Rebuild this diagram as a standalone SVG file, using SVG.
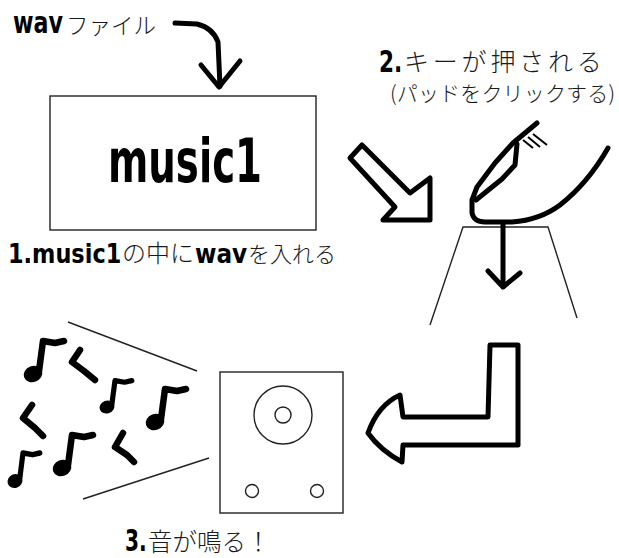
<svg xmlns="http://www.w3.org/2000/svg" width="619" height="558" viewBox="0 0 619 558">
  <style>
    .jp { font-family: "Noto Sans CJK JP", "DejaVu Sans", sans-serif; font-weight: 300; fill: #1a1a1a; }
    .bd { font-family: "DejaVu Sans", "Liberation Sans", sans-serif; font-weight: bold; fill: #000; }
    .thin { fill: none; stroke: #222; stroke-width: 1.4; }
    .thick { fill: none; stroke: #000; stroke-width: 5; stroke-linecap: round; stroke-linejoin: round; }
    .hollow { fill: #fff; stroke: #000; stroke-width: 5; stroke-linejoin: round; }
    .ink { fill: #000; stroke: #000; stroke-width: 2; stroke-linejoin: round; }
    .squig { fill: none; stroke: #000; stroke-width: 6.5; stroke-linecap: round; stroke-linejoin: round; }
  </style>
  <defs>
    <!-- eighth note: head at origin, stem up and flag to the right -->
    <g id="note">
      <ellipse cx="0" cy="0" rx="8.5" ry="7" transform="rotate(-20)" class="ink"/>
      <path d="M6,-3 L10,-33 L22,-31 L31,-33" class="squig"/>
    </g>
  </defs>

  <rect width="619" height="558" fill="#fff"/>

  <!-- source file label -->
  <g id="wav-file">
    <text class="bd" transform="translate(13,33) scale(0.74,1)" font-size="30">wav</text>
    <text class="jp" x="66" y="34" font-size="22.5">ファイル</text>
  </g>

  <!-- pad box -->
  <g id="music1">
    <rect x="50" y="96" width="266" height="134" class="thin"/>
    <text class="bd" transform="translate(108,182) scale(0.645,1)" font-size="60">music1</text>
  </g>

  <g id="step1">
    <text class="bd" transform="translate(8,263) scale(0.83,1)" font-size="27">1.music1</text>
    <text class="jp" x="122" y="262" font-size="24">の中に</text>
    <text class="bd" transform="translate(195,263) scale(0.86,1)" font-size="27">wav</text>
    <text class="jp" x="248" y="262" font-size="22">を入れる</text>
  </g>

  <g id="step2">
    <text class="bd" transform="translate(379,72) scale(0.72,1)" font-size="30">2.</text>
    <text class="jp" x="404" y="71" font-size="25" letter-spacing="3.8">キーが押される</text>
    <text class="jp" x="390" y="101" font-size="21" textLength="225" lengthAdjust="spacing">(パッドをクリックする)</text>
  </g>

  <!-- finger pressing a pad -->
  <g id="finger">
    <path d="M537,123 L513,143 L495,163 L477,187 L472,200 L472,213 Q474,222 485,222 L512,222 Q540,220 560,205 Q588,183 608,148" class="thick" stroke-width="4.5"/>
    <path d="M517,144 L515,165 L502,179 L476,200" class="thick" stroke-width="4"/>
    <path d="M523,140 L533,148 M528,137 L540,147 M533,134 L547,145" fill="none" stroke="#000" stroke-width="2"/>
  </g>

  <g id="pad">
    <path d="M430,325 L463,227 L548,227 L577,318" class="thin"/>
  </g>

  <!-- speaker -->
  <g id="speaker">
    <rect x="220" y="372" width="123" height="141" class="thin"/>
    <circle cx="283" cy="415" r="29" class="thin"/>
    <circle cx="283" cy="415" r="8" class="thin"/>
    <circle cx="252" cy="491" r="6.5" class="thin"/>
    <circle cx="317" cy="491" r="6.5" class="thin"/>
  </g>

  <!-- sound spreading out of the speaker -->
  <g id="sound">
    <path d="M68,322 L197,371 M83,499 L209,458" class="thin"/>
    <use href="#note" transform="translate(33,374)"/>
    <use href="#note" transform="translate(107,407) scale(0.8)"/>
    <use href="#note" transform="translate(155,422)"/>
    <use href="#note" transform="translate(62,468)"/>
    <use href="#note" transform="translate(15,481) scale(0.8,0.85)"/>
    <path d="M80,350 L72,362 L84,371 L95,380" class="squig"/>
    <path d="M32,405 L23,418 L35,428 L43,436" class="squig"/>
    <path d="M123,433 L115,447 L127,455 L134,462" class="squig"/>
  </g>

  <g id="step3">
    <text class="bd" transform="translate(125,551) scale(0.72,1.1)" font-size="28">3.</text>
    <text class="jp" x="148" y="551" font-size="24.5">音が鳴る！</text>
  </g>

  <g id="connectors">
    <!-- file drops into the pad -->
    <path d="M175,23 L197,24 Q213,28 218,42 L220,86" class="thick" stroke-width="5.5"/>
    <path d="M201,65 L219,87 L240,61" class="thick" stroke-width="5.5"/>
    <!-- pad to key press -->
    <path d="M350,158 L362,145 L410,193 L430,178 L430,220 L383,220 L395,207 Z" class="hollow"/>
    <!-- key press down -->
    <path d="M503,224 L503,287 M488,271 L503,287 L520,273" class="thick"/>
    <!-- key press to speaker -->
    <path d="M490,345 L518,345 L518,445 L403,445 L402,462 Q380,450 368,433 Q378,405 400,395 L403,417 L488,417 Z" class="hollow"/>
  </g>
</svg>
